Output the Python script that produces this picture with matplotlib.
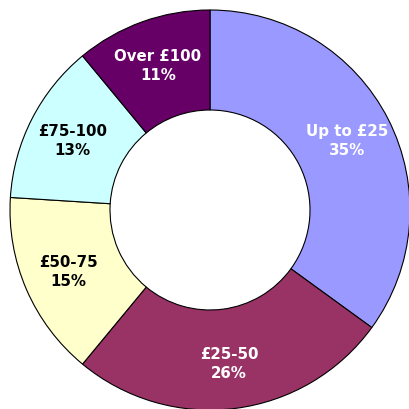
import matplotlib
matplotlib.use("Agg")
import matplotlib.pyplot as plt
import numpy as np

categories = ["Up to £25", "£25-50", "£50-75", "£75-100", "Over £100"]
values = [35, 26, 15, 13, 11]
colors = ["#9999FF", "#993366", "#FFFFCC", "#CCFFFF", "#660066"]
text_colors = ["white", "white", "black", "black", "white"]

W, H = 409, 410
fig = plt.figure(figsize=(W / 100, H / 100), dpi=100)
ax = fig.add_axes([0, 0, 1, 1])
cx, cy, R = 210, 199, 200

wedges, _ = ax.pie(values, colors=colors, startangle=90, counterclock=False,
                   radius=R, wedgeprops=dict(width=R * 0.5, edgecolor="black", linewidth=0.8))
ax.set_xlim(-cx, W - cx)
ax.set_ylim(-cy, H - cy)
ax.set_aspect("equal")
ax.axis("off")

total = sum(values)
cum = 0
for cat, v, tc in zip(categories, values, text_colors):
    mid = (cum + v / 2) / total
    cum += v
    ang = np.deg2rad(90 - 360 * mid)
    r = R * 0.77
    ax.text(r * np.cos(ang), r * np.sin(ang), f"{cat}\n{v}%", ha="center", va="center",
            fontsize=10.8, fontweight="bold", color=tc, family="DejaVu Sans", linespacing=1.35)

fig.savefig("out.png", dpi=100)
